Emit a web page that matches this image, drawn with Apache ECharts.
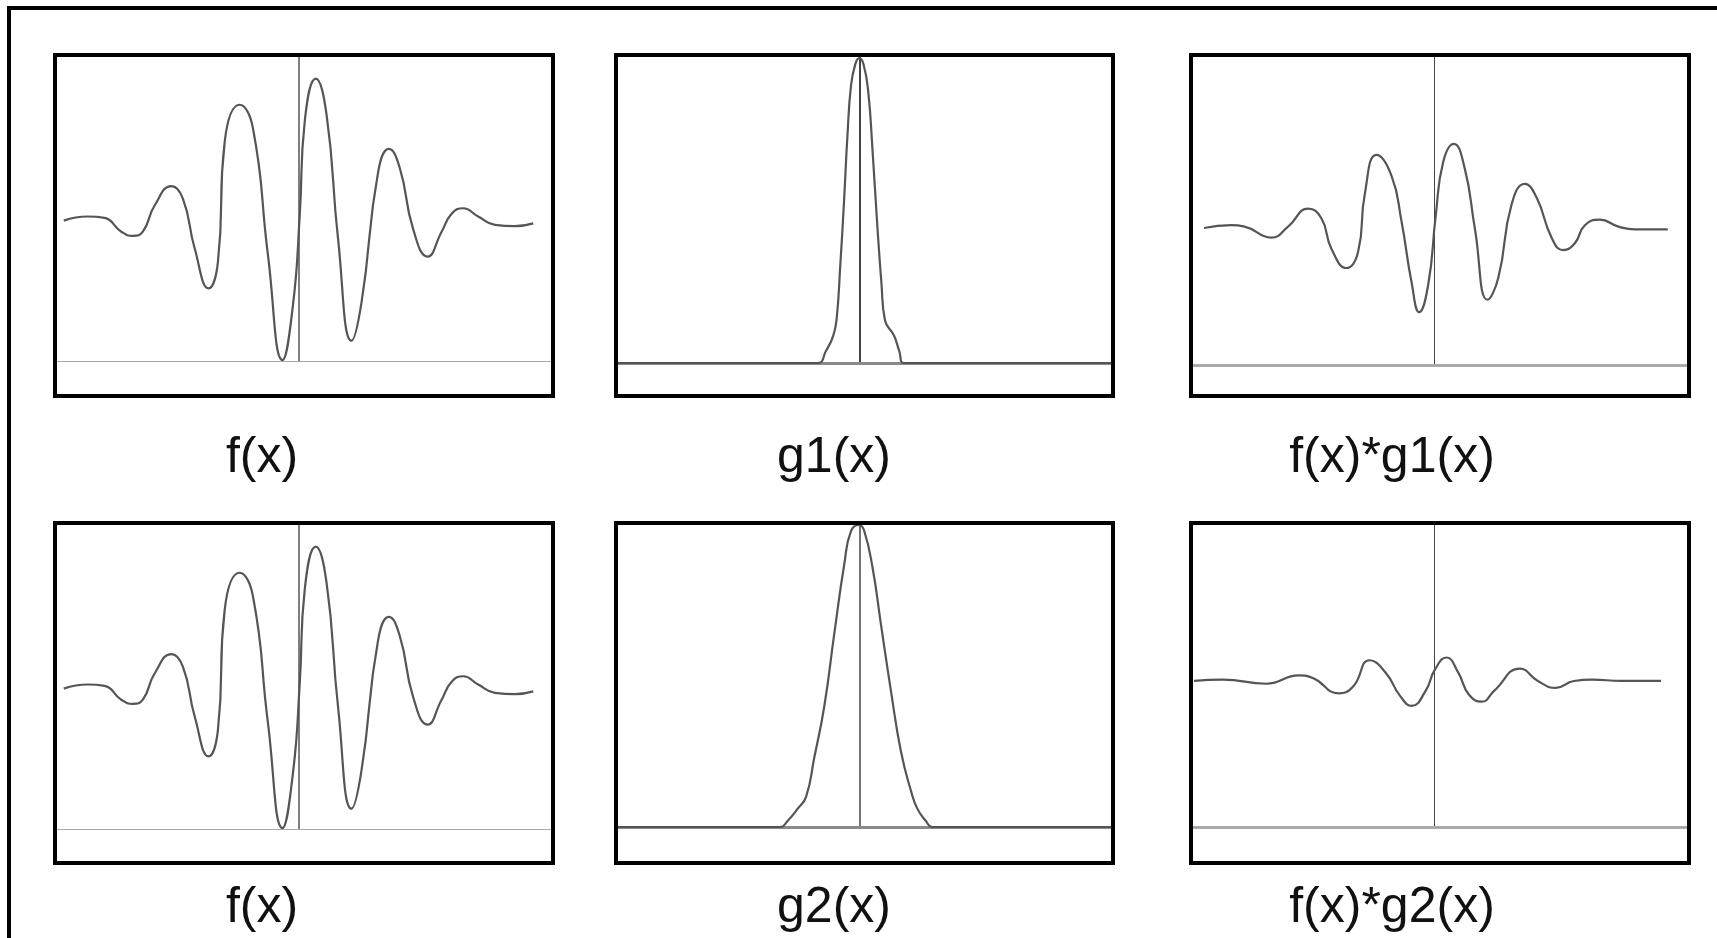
<!DOCTYPE html>
<html>
<head>
<meta charset="utf-8">
<title>f(x) * g(x)</title>
<script src="https://cdn.jsdelivr.net/npm/echarts@6/dist/echarts.min.js"></script>
<style>
	html, body { margin: 0; padding: 0; background: #fff; }
	#chart { width: 1717px; height: 938px; }
</style>
</head>
<body>
<div id="chart"></div>
<script>
// f(x) - the wave packet (used in both rows)
var fT = [-9.39, -8.43, -7.76, -7.09, -6.63, -6.23, -5.76, -5.09, -4.63, -4.16, -3.60, -3.23, -2.96, -2.36, -1.83, -1.23, -0.65, -0.23, 0.04, 0.24, 0.68, 1.11, 1.57, 2.11, 2.51, 3.17, 3.60, 4.04, 4.57, 5.15, 5.71, 6.11, 6.57, 7.17, 7.84, 8.64, 9.37];
var fV = [0.01, 0.04, 0.03, -0.07, -0.10, -0.07, 0.12, 0.26, 0.17, -0.19, -0.48, -0.29, 0.58, 0.85, 0.68, -0.24, -1.00, -0.60, 0.05, 0.73, 1.04, 0.78, -0.12, -0.86, -0.58, 0.36, 0.53, 0.39, -0.05, -0.25, -0.07, 0.06, 0.10, 0.04, -0.02, -0.03, -0.01];
// g1(x) - narrow kernel
var g1T = [-9.66, -1.68, -1.33, -1.04, -0.90, -0.76, -0.61, -0.47, -0.33, -0.16, 0, 0.17, 0.36, 0.53, 0.70, 0.89, 1.03, 1.39, 1.60, 1.79, 10.08];
var g1V = [0, 0, 0.04, 0.09, 0.15, 0.32, 0.53, 0.75, 0.91, 0.98, 1.0, 0.98, 0.89, 0.70, 0.48, 0.26, 0.14, 0.09, 0.04, 0, 0];
// f(x)*g1(x)
var fg1T = [-9.22, -8.13, -7.60, -6.53, -5.86, -5.06, -4.53, -4.13, -3.53, -3.06, -2.80, -2.33, -1.73, -1.33, -0.93, -0.62, -0.26, 0.04, 0.34, 0.76, 1.20, 1.60, 2.11, 2.54, 3.07, 3.60, 4.07, 4.67, 5.13, 5.60, 6.00, 6.60, 7.34, 8.00, 9.31];
var fg1V = [0.00, 0.02, 0.01, -0.07, 0.01, 0.14, 0.07, -0.15, -0.29, -0.17, 0.24, 0.53, 0.38, 0.05, -0.39, -0.61, -0.41, 0.09, 0.48, 0.61, 0.43, 0.00, -0.52, -0.36, 0.17, 0.32, 0.22, -0.07, -0.16, -0.11, 0.02, 0.06, 0.01, -0.01, -0.01];
// g2(x) - wide kernel
var g2T = [-9.66, -3.17, -2.87, -2.47, -2.13, -1.80, -1.40, -1.00, -0.60, -0.33, 0, 0.20, 0.53, 0.87, 1.27, 1.67, 2.07, 2.33, 2.67, 2.93, 10.08];
var g2V = [0, 0, 0.02, 0.06, 0.10, 0.23, 0.40, 0.64, 0.87, 0.98, 1.0, 0.98, 0.86, 0.67, 0.45, 0.25, 0.12, 0.06, 0.02, 0, 0];
// f(x)*g2(x)
var fg2T = [-9.62, -8.47, -6.73, -5.43, -4.85, -3.84, -3.26, -2.61, -1.96, -1.38, -0.92, -0.36, 0, 0.47, 0.94, 1.37, 1.88, 2.38, 3.40, 4.12, 4.84, 5.56, 6.29, 7.45, 9.04];
var fg2V = [0, 0.01, -0.02, 0.04, 0.02, -0.09, -0.04, 0.15, 0.06, -0.11, -0.18, -0.07, 0.08, 0.17, 0.06, -0.10, -0.15, -0.07, 0.09, 0, -0.05, 0, 0.01, 0, 0];

var labels = ['f(x)', 'g1(x)', 'f(x)*g1(x)', 'f(x)', 'g2(x)', 'f(x)*g2(x)'];

function pairs(t, v) {
	var out = [];
	for (var i = 0; i < t.length; i++) out.push([t[i], v[i]]);
	return out;
}

var curves = [
	pairs(fT, fV), pairs(g1T, g1V), pairs(fg1T, fg1V),
	pairs(fT, fV), pairs(g2T, g2V), pairs(fg2T, fg2V)
];

// panel layout (pixels) and axis styling
var panels = [
	{ box: [55, 55, 498, 341], grid: [57, 57, 494, 304], y: [-1.007, 1.196], hx: ['#a8a8a8', 1], vy: ['#555', 1.5], lab: [262, 458] },
	{ box: [616, 55, 497, 341], grid: [618, 57, 493, 306], y: [0, 1.004], hx: ['#8a8a8a', 3], vy: ['#444', 2], lab: [834, 458] },
	{ box: [1191, 55, 498, 341], grid: [1193, 57, 494, 308], y: [-0.993, 1.239], hx: ['#aaa', 3], vy: ['#444', 1], lab: [1392, 458] },
	{ box: [55, 523, 498, 340], grid: [57, 525, 494, 304], y: [-1.007, 1.196], hx: ['#a8a8a8', 1], vy: ['#555', 1.5], lab: [262, 908] },
	{ box: [616, 523, 497, 340], grid: [618, 525, 493, 302], y: [0, 1.0], hx: ['#8a8a8a', 3], vy: ['#444', 1.5], lab: [834, 908] },
	{ box: [1191, 523, 498, 340], grid: [1193, 525, 494, 302], y: [-1.058, 1.130], hx: ['#aaa', 3], vy: ['#444', 1], lab: [1392, 908] }
];

var grids = [], xAxes = [], yAxes = [], series = [], graphics = [];

// outer frame (only left and top edges fall inside the picture)
graphics.push({
	type: 'polyline',
	shape: { points: [[9, 960], [9, 8], [1740, 8]] },
	style: { stroke: '#000', lineWidth: 4, fill: null }
});

panels.forEach(function (p, i) {
	grids.push({ left: p.grid[0], top: p.grid[1], width: p.grid[2], height: p.grid[3] });
	xAxes.push({
		type: 'value', gridIndex: i, min: -9.66, max: 10.08,
		axisLine: { onZero: false, lineStyle: { color: p.hx[0], width: p.hx[1] } },
		axisTick: { show: false }, axisLabel: { show: false }, splitLine: { show: false }
	});
	yAxes.push({
		type: 'value', gridIndex: i, min: p.y[0], max: p.y[1],
		axisLine: { show: true, onZero: true, lineStyle: { color: p.vy[0], width: p.vy[1] } },
		axisTick: { show: false }, axisLabel: { show: false }, splitLine: { show: false }
	});
	series.push({
		type: 'line', xAxisIndex: i, yAxisIndex: i,
		data: curves[i],
		smooth: 0.5,
		showSymbol: false,
		lineStyle: { color: '#555', width: 2.2 },
		z: 3
	});
	graphics.push({
		type: 'rect',
		shape: { x: p.box[0], y: p.box[1], width: p.box[2], height: p.box[3] },
		style: { stroke: '#000', lineWidth: 4, fill: null },
		z: 10
	});
	graphics.push({
		type: 'text',
		x: p.lab[0], y: p.lab[1],
		style: {
			text: labels[i],
			font: '50px "Liberation Sans", Arial, sans-serif',
			fill: '#111',
			align: 'center',
			verticalAlign: 'middle'
		}
	});
});

var chart = echarts.init(document.getElementById('chart'));
chart.setOption({
	backgroundColor: '#fff',
	animation: false,
	grid: grids,
	xAxis: xAxes,
	yAxis: yAxes,
	series: series,
	graphic: graphics
});
</script>
</body>
</html>
